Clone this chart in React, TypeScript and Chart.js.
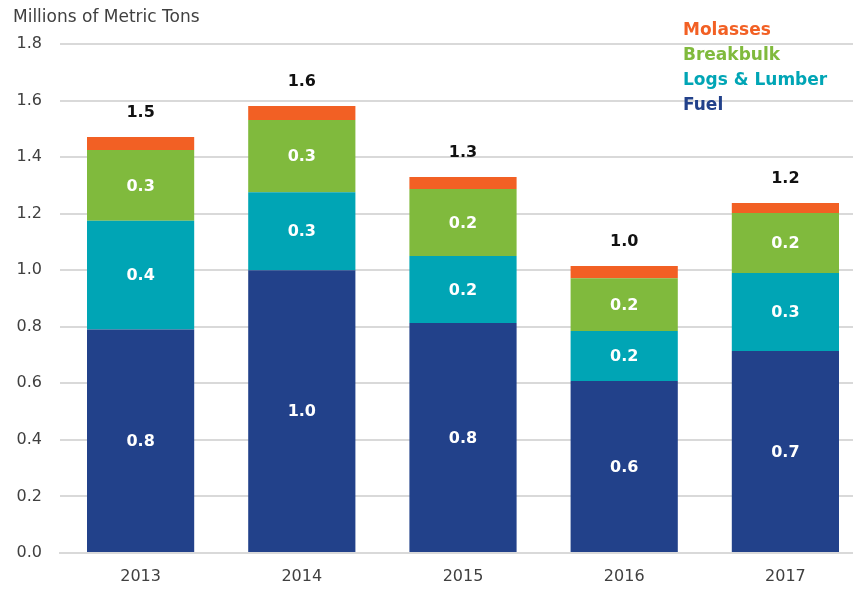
import React, { useEffect, useRef } from "react";
import { Chart, registerables } from "chart.js";

Chart.register(...registerables);

const categories = ["2013", "2014", "2015", "2016", "2017"];
const fuel = [0.79, 1.0, 0.813, 0.608, 0.714];
const logsLumber = [0.385, 0.276, 0.237, 0.177, 0.276];
const breakbulk = [0.25, 0.255, 0.237, 0.187, 0.212];
const molasses = [0.046, 0.05, 0.043, 0.043, 0.036];
const totalLabels = ["1.5", "1.6", "1.3", "1.0", "1.2"];
const yTicks = [0, 0.2, 0.4, 0.6, 0.8, 1.0, 1.2, 1.4, 1.6, 1.8];
const legendItems = ["Molasses", "Breakbulk", "Logs & Lumber", "Fuel"];
const axisTitle = "Millions of Metric Tons";

const COLORS = {
  fuel: "#22418a",
  logs: "#00a5b5",
  breakbulk: "#80ba3d",
  molasses: "#f26024",
};
const legendColors = [COLORS.molasses, COLORS.breakbulk, COLORS.logs, COLORS.fuel];
const FONT = "'DejaVu Sans', sans-serif";

export default function App() {
  const ref = useRef<HTMLCanvasElement | null>(null);

  useEffect(() => {
    if (!ref.current) return;
    const overlay = {
      id: "overlay",
      afterDatasetsDraw(chart: any) {
        const ctx = chart.ctx;
        ctx.save();
        // segment labels
        ctx.textAlign = "center";
        ctx.textBaseline = "middle";
        ctx.font = `bold 16px ${FONT}`;
        ctx.fillStyle = "#ffffff";
        for (let d = 0; d < 3; d++) {
          const meta = chart.getDatasetMeta(d);
          const data = chart.data.datasets[d].data as number[];
          meta.data.forEach((bar: any, i: number) => {
            const cy = (bar.y + bar.base) / 2;
            ctx.fillText(data[i].toFixed(1), bar.x, cy + 1);
          });
        }
        // totals
        ctx.fillStyle = "#111111";
        const topMeta = chart.getDatasetMeta(3);
        topMeta.data.forEach((bar: any, i: number) => {
          ctx.fillText(totalLabels[i], bar.x, bar.y - 24);
        });
        // axis title
        ctx.textAlign = "left";
        ctx.font = `17px ${FONT}`;
        ctx.fillStyle = "#404040";
        ctx.fillText(axisTitle, 13, 18);
        // legend
        ctx.font = `bold 17px ${FONT}`;
        legendItems.forEach((t, i) => {
          ctx.fillStyle = legendColors[i];
          ctx.fillText(t, 683, 31 + i * 25);
        });
        ctx.restore();
      },
    };

    const chart = new Chart(ref.current, {
      type: "bar",
      data: {
        labels: categories,
        datasets: [
          { label: "Fuel", data: fuel, backgroundColor: COLORS.fuel },
          { label: "Logs & Lumber", data: logsLumber, backgroundColor: COLORS.logs },
          { label: "Breakbulk", data: breakbulk, backgroundColor: COLORS.breakbulk },
          { label: "Molasses", data: molasses, backgroundColor: COLORS.molasses },
        ],
      },
      options: {
        animation: false,
        responsive: false,
        maintainAspectRatio: false,
        layout: { padding: { left: 0, top: 44, right: 14, bottom: 0 } },
        plugins: { legend: { display: false }, tooltip: { enabled: false } },
        datasets: { bar: { categoryPercentage: 1, barPercentage: 0.665, borderWidth: 0 } },
        scales: {
          x: {
            stacked: true,
            grid: { display: false, drawTicks: false },
            border: { display: true, color: "#d9d9d9", width: 2 },
            ticks: { color: "#404040", font: { family: FONT, size: 16 }, padding: 14 },
            afterFit: (s: any) => {
              s.height = 37;
            },
          },
          y: {
            stacked: true,
            min: 0,
            max: 1.8,
            afterBuildTicks: (s: any) => {
              s.ticks = yTicks.map((v) => ({ value: v }));
            },
            grid: { color: "#d9d9d9", lineWidth: 2, drawTicks: false },
            border: { display: false },
            ticks: {
              color: "#404040",
              font: { family: FONT, size: 16 },
              padding: 18,
              callback: (v: any) => Number(v).toFixed(1),
            },
            afterFit: (s: any) => {
              s.width = 60;
            },
          },
        },
      },
      plugins: [overlay],
    });
    return () => chart.destroy();
  }, []);

  return (
    <div
      style={{
        position: "fixed",
        left: 0,
        top: 0,
        width: 853,
        height: 590,
        overflow: "hidden",
        background: "#fff",
      }}
    >
      <canvas ref={ref} width={880} height={590} style={{ display: "block" }} />
    </div>
  );
}
